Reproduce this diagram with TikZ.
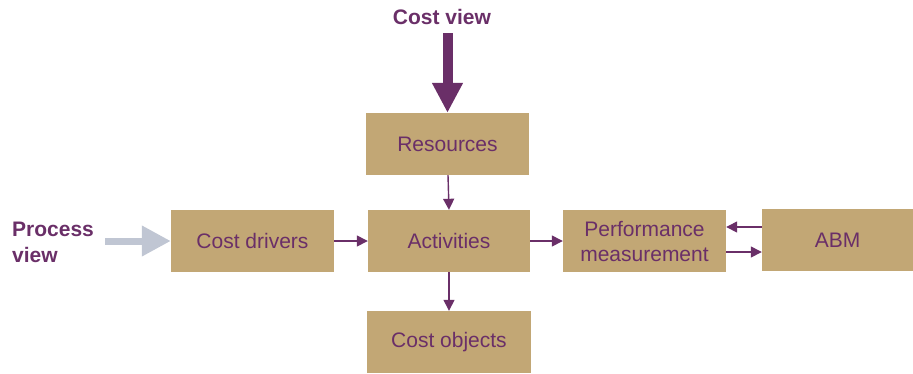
\documentclass[tikz,border=0pt]{standalone}
\usepackage{fontspec}
\setmainfont{Liberation Sans}
\usetikzlibrary{arrows.meta}
\definecolor{boxtan}{HTML}{C2A775}
\definecolor{plum}{HTML}{6A2F68}
\definecolor{steel}{HTML}{C0C6D3}
\begin{document}
\begin{tikzpicture}[x=1pt,y=-1pt,
  block/.style={fill=boxtan,draw=none,inner sep=0pt,text=plum,font=\fontsize{21}{25}\selectfont,align=center},
  link/.style={draw=plum,line width=1.4pt,-{Triangle[length=11pt,width=11pt]}},
  heading/.style={text=plum,font=\fontsize{21}{26}\selectfont\bfseries,align=left,inner sep=0pt}]
\useasboundingbox (0,0) rectangle (913,373);
% boxes
\node[block,minimum width=163pt,minimum height=62pt] (res) at (447.5,144) {Resources};
\node[block,minimum width=163pt,minimum height=62pt] (drv) at (252.5,241) {Cost drivers};
\node[block,minimum width=162pt,minimum height=62pt] (act) at (449,241) {Activities};
\node[block,minimum width=163pt,minimum height=62pt] (perf) at (644.5,241) {Performance\\measurement};
\node[block,minimum width=151pt,minimum height=62pt] (abm) at (837.5,240) {ABM};
\node[block,minimum width=164pt,minimum height=62pt] (obj) at (449,342) {Cost objects};
% view labels
\node[heading,anchor=center] (cv) at (442,17) {Cost view};
\node[heading,anchor=west] (pv) at (12,242) {Process\\view};
\coordinate (cvs) at (447.5,33);
\coordinate (pvs) at (105,241);
% big arrows
\draw[draw=plum,line width=10pt,-{Triangle[length=30pt,width=29pt]}] (cvs) -- (res.north);
\draw[draw=steel,line width=7pt,-{Triangle[length=29pt,width=29pt]}] (pvs) -- (drv.west);
% connectors
\draw[link] (res.south) ++(0.5,0) -- (act.north);
\draw[link] (act.south) -- (obj.north);
\draw[link] (drv.east) -- (act.west);
\draw[link] (act.east) -- (perf.west);
\draw[link] (abm.west |- 0,227) -- (perf.east |- 0,227);
\draw[link] (perf.east |- 0,252) -- (abm.west |- 0,252);
\end{tikzpicture}
\end{document}
